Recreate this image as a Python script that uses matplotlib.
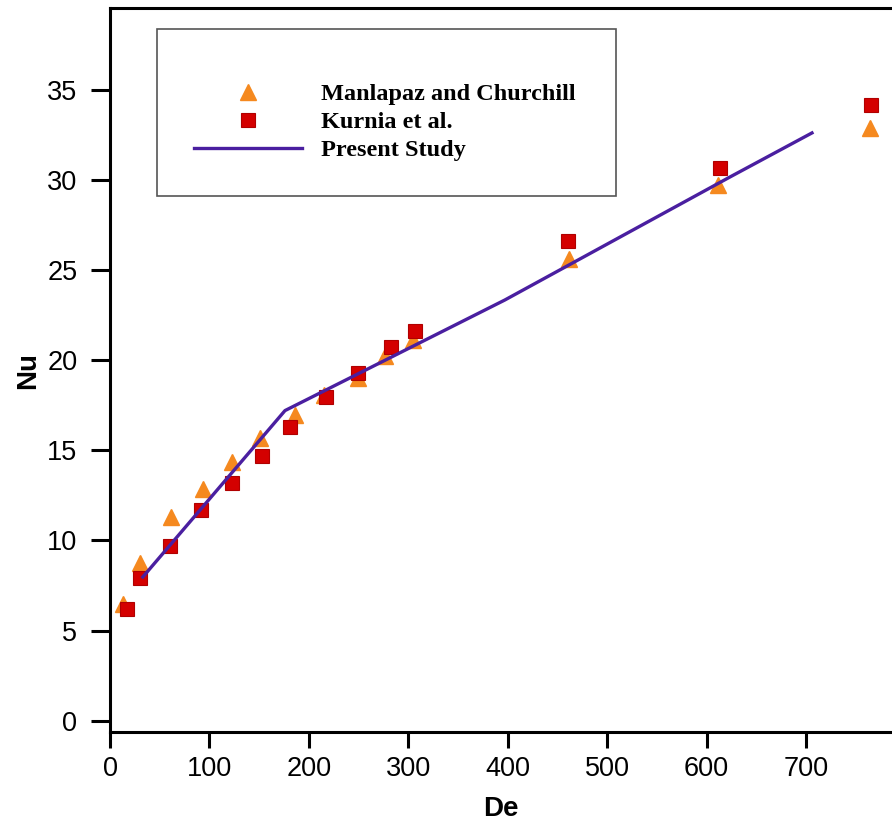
import matplotlib
matplotlib.use("Agg")
import matplotlib.pyplot as plt
from matplotlib.patches import Rectangle

# Data
de_manlapaz = [13, 30, 61, 94, 123, 151, 186, 215, 249, 277, 305, 462, 611, 764]
nu_manlapaz = [6.5, 8.75, 11.3, 12.85, 14.35, 15.7, 16.95, 18.05, 19.0, 20.2, 21.1, 25.6, 29.7, 32.85]

de_kurnia = [17, 30, 60, 92, 123, 153, 181, 217, 249, 283, 307, 461, 613, 765]
nu_kurnia = [6.2, 7.9, 9.7, 11.7, 13.2, 14.7, 16.3, 17.95, 19.3, 20.7, 21.6, 26.6, 30.65, 34.15]

de_present = [33, 176, 397, 624, 706]
nu_present = [7.97, 17.2, 23.33, 30.17, 32.6]

x_ticks = [0, 100, 200, 300, 400, 500, 600, 700]
y_ticks = [0, 5, 10, 15, 20, 25, 30, 35]

W, H = 892, 823
fig = plt.figure(figsize=(W / 100, H / 100), dpi=100)
ax = fig.add_axes([110 / W, 1 - 732 / H, 1 - 110 / W, (732 - 8) / H])

ax.plot(de_present, nu_present, color="#4a1fa0", lw=2.4, label="Present Study", zorder=3)
ax.plot(de_manlapaz, nu_manlapaz, ls="none", marker="^", ms=12, color="#f5891f",
        mec="#f5891f", label="Manlapaz and Churchill", zorder=2)
ax.plot(de_kurnia, nu_kurnia, ls="none", marker="s", ms=10.5, color="#d40000",
        mec="#b00000", mew=0.8, label="Kurnia et al.", zorder=2.5)

ax.set_xlim(0, (W - 110) / 0.9943)
ax.set_ylim((720.7 - 732) / 18.03, (720.7 - 8) / 18.03)
ax.set_xticks(x_ticks)
ax.set_yticks(y_ticks)

for s in ["left", "bottom", "top"]:
    ax.spines[s].set_linewidth(2.2)
ax.spines["right"].set_visible(False)

ax.tick_params(axis="y", direction="out", length=13.5, width=2.2, pad=10,
               labelsize=19.5)
ax.tick_params(axis="x", direction="out", length=11.5, width=2.2, pad=6,
               labelsize=19.5)
for lbl in ax.get_xticklabels() + ax.get_yticklabels():
    lbl.set_fontfamily("Liberation Sans")

ax.set_xlabel("De", fontsize=20, fontweight="bold", family="Liberation Sans", labelpad=10)
ax.set_ylabel("Nu", fontsize=20, fontweight="bold", family="Liberation Sans", labelpad=4)

# legend box
fig.patches.append(Rectangle((157 / W, 1 - 196 / H), (616 - 157) / W, (196 - 29) / H,
                             transform=fig.transFigure, fill=False,
                             edgecolor="#555555", lw=1.2, zorder=5))

handles, labels = ax.get_legend_handles_labels()
order = [1, 2, 0]
leg = ax.legend([handles[i] for i in order], [labels[i] for i in order],
                loc="upper left", bbox_to_anchor=(194 / W, 1 - 83 / H),
                bbox_transform=fig.transFigure, frameon=False, borderpad=0,
                borderaxespad=0, handlelength=4.45, handletextpad=0.78,
                labelspacing=0.25, markerscale=0.95,
                prop={"family": "Liberation Serif", "weight": "bold", "size": 17.5})

fig.savefig("out.png", dpi=100)
